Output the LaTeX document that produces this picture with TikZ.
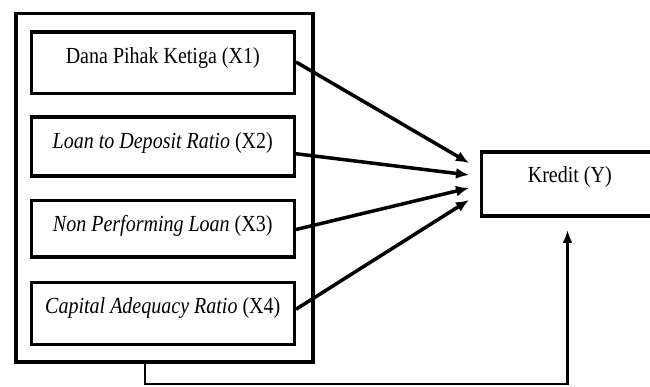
\documentclass[tikz,border=0pt]{standalone}
\usepackage{fontspec}
\setmainfont{Liberation Serif}[FakeStretch=0.87]
\usetikzlibrary{arrows.meta,calc}
\begin{document}
\begin{tikzpicture}[x=1pt,y=-1pt,
  frame/.style={draw=black,line width=3.5pt,rectangle,inner sep=0pt,anchor=north west},
  lbl/.style={font=\fontsize{23}{27}\selectfont},
  varbox/.style={frame,lbl,minimum width=263pt,text height=31pt},
  arr/.style={line width=3.5pt,-{Latex[length=13pt,width=11pt]}},
  conn/.style={line width=2.5pt,-{Latex[length=13pt,width=10pt]}}
]
\useasboundingbox (0,0) rectangle (650,387);
\fill[white] (0,0) rectangle (650,387);
\clip (0,0) rectangle (650,387);

\node[frame,minimum width=297pt,minimum height=348pt] (outer) at (14,12) {};
\node[varbox,text depth=30.5pt] (b1) at (29.5,30.5) {Dana Pihak Ketiga (X1)};
\node[varbox,text depth=28pt] (b2) at (29.5,115.5) {\textit{Loan to Deposit Ratio} (X2)};
\node[varbox,text depth=25.5pt] (b3) at (29.5,199) {\textit{Non Performing Loan} (X3)};
\node[varbox,text depth=31pt] (b4) at (29.5,280.5) {\textit{Capital Adequacy Ratio} (X4)};
\node[frame,lbl,minimum width=177pt,text height=30pt,text depth=34pt] (k) at (479.5,150.5) {Kredit (Y)};

\coordinate (t1) at (469,163);
\coordinate (t2) at (469,175);
\coordinate (t3) at (469,188);
\coordinate (t4) at (469,200);

\draw[arr] ([yshift=1pt]b1.east) -- (t1);
\draw[arr] ([yshift=-7pt]b2.east) -- (t2);
\draw[arr] ([yshift=-0.5pt]b3.east) -- (t3);
\draw[arr] ([yshift=4pt]b4.east) -- (t4);

\coordinate (start) at ($(outer.south west)+(131,0)$);
\coordinate (turn) at (567.5,384);
\coordinate (ktip) at (567.5,230);
\draw[conn] (start) -- (start |- turn) -- (turn) -- (ktip);
\end{tikzpicture}
\end{document}
